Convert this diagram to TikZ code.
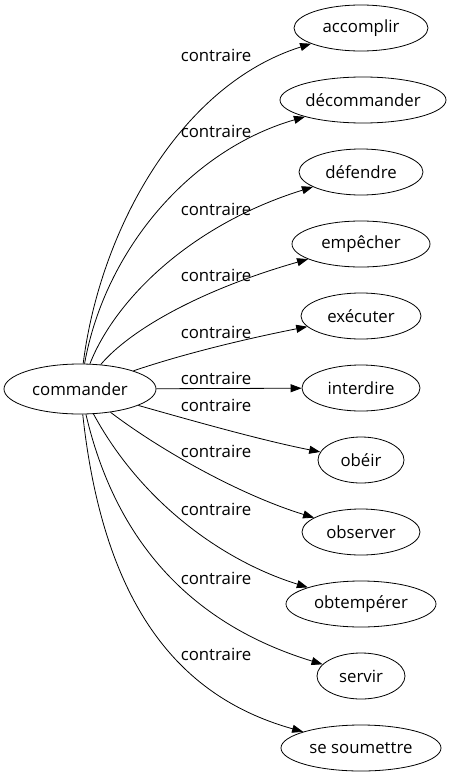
\documentclass[tikz,border=0pt]{standalone}
\usepackage{fontspec}
\setmainfont{Open Sans}
\usetikzlibrary{arrows.meta,shapes.geometric}
\begin{document}
\begin{tikzpicture}[x=1pt,y=-1pt,
  word/.style={draw, ellipse, inner sep=0pt, minimum height=46pt, line width=0.8pt, font=\fontsize{16.8}{19}\selectfont},
  lab/.style={inner sep=0pt, font=\fontsize{16.8}{19}\selectfont},
  rel/.style={-{Triangle[length=11pt,width=8pt]}, line width=0.8pt}]
\useasboundingbox (0,0) rectangle (453,779);
\node[word, minimum width=152pt, minimum height=50pt] (c) at (80,389) {commander};
\node[word, minimum width=134pt] (n1) at (361,28) {accomplir};
\node[word, minimum width=166pt] (n2) at (363,100) {décommander};
\node[word, minimum width=124pt] (n3) at (361,172) {défendre};
\node[word, minimum width=138pt] (n4) at (361,244) {empêcher};
\node[word, minimum width=120pt] (n5) at (361,316) {exécuter};
\node[word, minimum width=118pt] (n6) at (361,388) {interdire};
\node[word, minimum width=86pt] (n7) at (361,460) {obéir};
\node[word, minimum width=118pt] (n8) at (361,532) {observer};
\node[word, minimum width=150pt] (n9) at (361,604) {obtempérer};
\node[word, minimum width=88pt] (n10) at (361,676) {servir};
\node[word, minimum width=160pt] (n11) at (361,748) {se soumettre};

\draw[rel] (c) .. controls (100,230) and (180,85) .. (n1);
\draw[rel] (c) .. controls (105,250) and (190,150) .. (n2);
\draw[rel] (c) .. controls (115,300) and (190,225) .. (n3);
\draw[rel] (c) .. controls (130,330) and (200,290) .. (n4);
\draw[rel] (c) .. controls (180,355) and (240,340) .. (n5);
\draw[rel] (c) -- (n6);
\draw[rel] (c) .. controls (190,420) and (260,440) .. (n7);
\draw[rel] (c) .. controls (160,450) and (240,495) .. (n8);
\draw[rel] (c) .. controls (140,500) and (220,560) .. (n9);
\draw[rel] (c) .. controls (120,560) and (210,630) .. (n10);
\draw[rel] (c) .. controls (105,620) and (190,700) .. (n11);

\node[lab] (l1) at (216,55) {contraire};
\node[lab] (l2) at (216,131) {contraire};
\node[lab] (l3) at (216,209) {contraire};
\node[lab] (l4) at (216,275) {contraire};
\node[lab] (l5) at (216,332) {contraire};
\node[lab] (l6) at (216,378) {contraire};
\node[lab] (l7) at (216,405) {contraire};
\node[lab] (l8) at (216,451) {contraire};
\node[lab] (l9) at (216,509) {contraire};
\node[lab] (l10) at (216,578) {contraire};
\node[lab] (l11) at (216,654) {contraire};
\end{tikzpicture}
\end{document}
